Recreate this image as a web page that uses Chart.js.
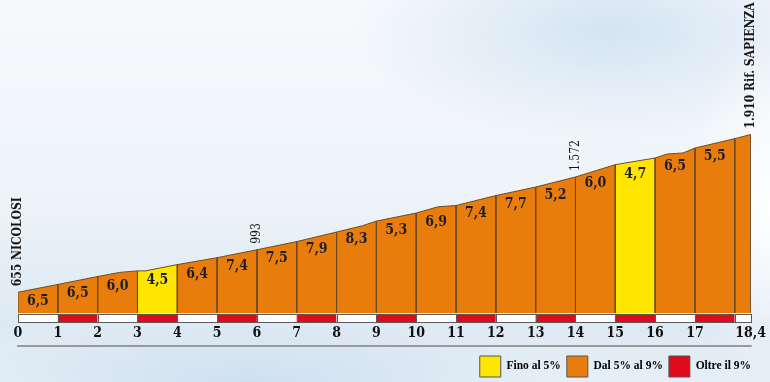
<!DOCTYPE html>
<html>
<head>
<meta charset="utf-8">
<script src="https://cdn.jsdelivr.net/npm/chart.js@4"></script>
<style>
  body {
    margin: 0;
    width: 770px;
    height: 382px;
    overflow: hidden;
    background:
      radial-gradient(ellipse 90px 170px at 770px 210px, rgba(255,255,255,0.95), rgba(255,255,255,0)),
      radial-gradient(ellipse 260px 110px at 610px 30px, rgba(205,225,241,0.85), rgba(205,225,241,0)),
      radial-gradient(ellipse 300px 60px at 250px 382px, rgba(200,220,238,0.8), rgba(200,220,238,0)),
      linear-gradient(180deg, #f7f9fc 0%, #eef4f9 50%, #dde9f3 85%, #e6eff7 100%);
  }
  canvas { display: block; }
</style>
</head>
<body>
<canvas id="chart" width="770" height="382"></canvas>
<script>
// profilo altimetrico: km e quota (m)
const profiloKm    = [0, 1, 2, 2.55, 3, 3.2, 4, 5, 6, 7, 8, 8.65, 9, 10, 10.55, 11, 12, 13, 14, 15, 16, 16.3, 16.7, 17, 18, 18.4]
const profiloQuota = [655, 717, 780, 813, 825, 825, 875, 930, 993, 1058, 1134, 1184, 1221, 1285, 1335, 1345, 1424, 1492, 1572, 1670, 1723, 1755, 1763, 1802, 1877, 1910]

// pendenza media per km (%), l'ultimo tratto 18-18,4 senza etichetta
const pendenze = [6.5, 6.5, 6.0, 4.5, 6.4, 7.4, 7.5, 7.9, 8.3, 5.3, 6.9, 7.4, 7.7, 5.2, 6.0, 4.7, 6.5, 5.5, null]
const tratti = [0, 1, 2, 3, 4, 5, 6, 7, 8, 9, 10, 11, 12, 13, 14, 15, 16, 17, 18, 18.4]

const tickKm = [0, 1, 2, 3, 4, 5, 6, 7, 8, 9, 10, 11, 12, 13, 14, 15, 16, 17, 18.4]

const quoteKm    = [0, 6, 14, 18.4]
const quoteTesto = ['655 NICOLOSI', '993', '1.572', '1.910 Rif. SAPIENZA']

const legendaTesto = ['Fino al 5%', 'Dal 5% al 9%', 'Oltre il 9%']

const GIALLO = '#ffe600'
const ARANCIO = '#e97d0b'
const ROSSO = '#df0a1c'
const Y_MIN = 490
const Y_MAX = 2980
const FONT = '"DejaVu Serif Condensed", "DejaVu Serif", serif'

function coloreTratto(p) {
    if (p === null) return ARANCIO
    if (p < 5) return GIALLO
    if (p <= 9) return ARANCIO
    return ROSSO
}

function quotaA(km) {
    return profiloQuota[profiloKm.indexOf(km)]
}

// un dataset per ogni tratto, chiuso in basso per avere le linee verticali
const datasets = []
for (let i = 0; i < tratti.length - 1; i++) {
    const a = tratti[i], b = tratti[i + 1]
    const punti = [{x: a, y: Y_MIN}]
    profiloKm.forEach((km, j) => {
        if (km >= a && km <= b) punti.push({x: km, y: profiloQuota[j]})
    })
    punti.push({x: b, y: Y_MIN})
    datasets.push({
        data: punti,
        backgroundColor: coloreTratto(pendenze[i]),
        borderColor: '#6e4a26',
        borderWidth: 1,
        fill: 'start',
        pointRadius: 0,
        tension: 0
    })
}

const etichette = {
    id: 'etichette',
    afterDatasetsDraw(chart) {
        const {ctx, chartArea, scales} = chart
        const x = scales.x, y = scales.y
        ctx.save()

        // striscia km bianca/rossa
        const top = chartArea.bottom + 1
        for (let i = 0; i < tratti.length - 1; i++) {
            const x0 = x.getPixelForValue(tratti[i])
            const x1 = x.getPixelForValue(tratti[i + 1])
            ctx.fillStyle = i % 2 ? ROSSO : '#ffffff'
            ctx.fillRect(x0, top, x1 - x0, 8)
            ctx.strokeStyle = '#5a5a5a'
            ctx.lineWidth = 1
            ctx.strokeRect(Math.round(x0) + 0.5, top + 0.5, Math.round(x1 - x0), 8)
        }

        // pendenze
        ctx.fillStyle = '#1d1d30'
        ctx.font = 'bold 14px ' + FONT
        ctx.textAlign = 'center'
        ctx.textBaseline = 'middle'
        for (let i = 0; i < pendenze.length; i++) {
            if (pendenze[i] === null) continue
            const a = tratti[i], b = tratti[i + 1]
            const cx = (x.getPixelForValue(a) + x.getPixelForValue(b)) / 2
            const cy = (y.getPixelForValue(quotaA(a)) + y.getPixelForValue(quotaA(b))) / 2 + 13
            ctx.fillText(pendenze[i].toFixed(1).replace('.', ','), cx, cy)
        }

        // quote
        quoteKm.forEach((km, i) => {
            const px = x.getPixelForValue(km)
            const py = y.getPixelForValue(quotaA(km)) - 6
            const nome = quoteTesto[i].length > 5
            ctx.save()
            ctx.translate(px, py)
            ctx.rotate(-Math.PI / 2)
            ctx.font = (nome ? 'bold 12px ' : '12px ') + FONT
            ctx.fillStyle = '#151515'
            ctx.textAlign = 'left'
            ctx.textBaseline = 'middle'
            ctx.fillText(quoteTesto[i], 0, 0)
            ctx.restore()
        })

        // linea grigia sotto i km
        ctx.strokeStyle = '#9a9a9a'
        ctx.lineWidth = 2
        ctx.beginPath()
        ctx.moveTo(chartArea.left - 1, chartArea.bottom + 33)
        ctx.lineTo(chartArea.right + 1, chartArea.bottom + 33)
        ctx.stroke()
        ctx.restore()
    }
}

new Chart(document.getElementById('chart'), {
    type: 'line',
    data: {datasets},
    options: {
        responsive: false,
        animation: false,
        layout: {padding: {left: 18, right: 13, top: 0, bottom: -5}},
        scales: {
            x: {
                type: 'linear',
                min: 0,
                max: 18.4,
                grid: {display: false},
                border: {display: false},
                afterBuildTicks: (scale) => { scale.ticks = tickKm.map(v => ({value: v})) },
                afterFit: (scale) => { scale.height = 37 },
                ticks: {
                    padding: 4,
                    maxRotation: 0,
                    autoSkip: false,
                    color: '#111',
                    font: {family: FONT, size: 14, weight: 'bold'},
                    callback: (v) => String(v).replace('.', ',')
                }
            },
            y: {display: false, min: Y_MIN, max: Y_MAX}
        },
        plugins: {
            tooltip: {enabled: false},
            legend: {
                position: 'bottom',
                align: 'end',
                onClick: null,
                labels: {
                    boxWidth: 21,
                    boxHeight: 21,
                    padding: 6,
                    color: '#111',
                    font: {family: '"Liberation Serif", serif', size: 11.5, weight: 'bold'},
                    generateLabels: () => legendaTesto.map((t, i) => ({
                        text: t,
                        fillStyle: [GIALLO, ARANCIO, ROSSO][i],
                        strokeStyle: '#555',
                        lineWidth: 1,
                        hidden: false,
                        datasetIndex: i
                    }))
                }
            }
        }
    },
    plugins: [etichette]
})
</script>
</body>
</html>
